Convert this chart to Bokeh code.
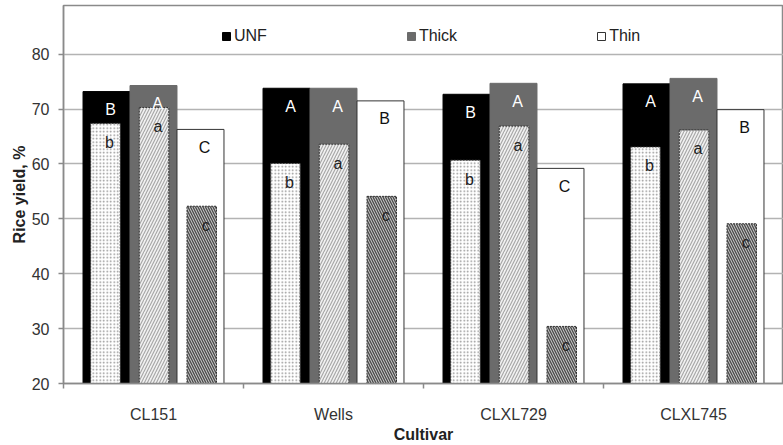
import numpy as np
from bokeh.plotting import figure
from bokeh.models import (ColumnDataSource, Range1d, FixedTicker, Legend, LegendItem)
from bokeh.core.properties import value
from bokeh.embed import file_html
from bokeh.resources import INLINE

# ---- data ----
cultivars = ["CL151", "Wells", "CLXL729", "CLXL745"]
series = ["UNF", "Thick", "Thin"]
total_unf = [73.2, 73.8, 72.7, 74.6]
total_thick = [74.3, 73.8, 74.7, 75.6]
total_thin = [66.3, 71.5, 59.2, 69.9]
head_unf = [67.4, 60.1, 60.7, 63.1]
head_thick = [70.3, 63.6, 66.9, 66.2]
head_thin = [52.3, 54.1, 30.4, 49.1]
let_total_unf = ["B", "A", "B", "A"]
let_total_thick = ["A", "A", "A", "A"]
let_total_thin = ["C", "B", "C", "B"]
let_head_unf = ["b", "b", "b", "b"]
let_head_thick = ["a", "a", "a", "a"]
let_head_thin = ["c", "c", "c", "c"]
y_ticks = [20, 30, 40, 50, 60, 70, 80]
x_title = "Cultivar"
y_title = "Rice yield, %"

FONT = "Liberation Sans"
centers = np.arange(len(cultivars)) + 0.5

p = figure(width=783, height=445, output_backend="svg", toolbar_location=None,
           x_range=Range1d(0, 4.0), y_range=Range1d(20, 88.88),
           min_border_left=63, min_border_right=0, min_border_top=5,
           min_border_bottom=60, background_fill_color="white",
           border_fill_color="white")
p.outline_line_color = "#8a8a8a"
p.outline_line_width = 1.5

# grid
p.xgrid.visible = False
p.ygrid.ticker = FixedTicker(ticks=y_ticks)
p.ygrid.grid_line_color = "#b3b3b3"
p.ygrid.grid_line_width = 1.5

# axes
p.yaxis.ticker = FixedTicker(ticks=y_ticks)
p.yaxis.axis_line_color = "#8a8a8a"
p.yaxis.axis_line_width = 1.5
p.yaxis.major_tick_line_color = "#8a8a8a"
p.yaxis.major_tick_line_width = 1.5
p.yaxis.major_tick_out = 5
p.yaxis.major_tick_in = 0
p.yaxis.minor_tick_line_color = None
p.yaxis.major_label_standoff = 9
p.yaxis.axis_label = y_title
p.yaxis.axis_label_standoff = 1

p.xaxis.ticker = FixedTicker(ticks=list(centers), minor_ticks=[0, 1, 2, 3])
p.xaxis.major_label_overrides = {float(c): n for c, n in zip(centers, cultivars)}
p.xaxis.axis_line_color = "#8a8a8a"
p.xaxis.axis_line_width = 1.5
p.xaxis.major_tick_out = 0
p.xaxis.major_tick_in = 0
p.xaxis.minor_tick_out = 5
p.xaxis.minor_tick_in = 0
p.xaxis.minor_tick_line_color = "#8a8a8a"
p.xaxis.minor_tick_line_width = 1.5
p.xaxis.major_label_standoff = 17
p.xaxis.axis_label = x_title
p.xaxis.axis_label_standoff = 0

for ax in (p.xaxis[0], p.yaxis[0]):
    ax.major_label_text_font = FONT
    ax.major_label_text_font_size = "16px"
    ax.major_label_text_color = "#333333"
    ax.axis_label_text_font = FONT
    ax.axis_label_text_font_size = "16px"
    ax.axis_label_text_font_style = "bold"
    ax.axis_label_text_color = "#222222"

W_OUT = 0.261
W_IN = 0.164
out_off = [-0.261, 0.0, 0.261]
in_off = [-0.267, 0.003, 0.268]

totals = [total_unf, total_thick, total_thin]
heads = [head_unf, head_thick, head_thin]
let_tot = [let_total_unf, let_total_thick, let_total_thin]
let_head = [let_head_unf, let_head_thick, let_head_thin]
out_fill = ["#000000", "#6b6b6b", "#ffffff"]
out_line = ["#000000", "#6b6b6b", "#333333"]
out_text = ["#ffffff", "#ffffff", "#111111"]
in_fill = ["#ffffff", "#f2f2f2", "#c8c8c8"]
in_hatch = [".", "/", "\\"]
in_hcol = ["#8f8f8f", "#a8a8a8", "#4a4a4a"]
in_hscale = [3.5, 6, 5]
in_hweight = [1, 1.2, 1.3]

renderers = []
for i in range(3):
    src = ColumnDataSource(dict(x=centers + out_off[i], top=totals[i], lab=let_tot[i]))
    r = p.vbar(x="x", top="top", bottom=20, width=W_OUT, source=src,
               fill_color=out_fill[i], line_color=out_line[i], line_width=1)
    renderers.append(r)
    src2 = ColumnDataSource(dict(x=centers + in_off[i], top=heads[i], lab=let_head[i]))
    p.vbar(x="x", top="top", bottom=20, width=W_IN, source=src2,
           fill_color=in_fill[i], hatch_pattern=in_hatch[i], hatch_color=in_hcol[i],
           hatch_scale=in_hscale[i], hatch_weight=in_hweight[i],
           line_color="#333333", line_width=1, line_dash="2 1")
    p.text(x="x", y="top", text="lab", source=src, x_offset=4, y_offset=18,
           text_align="center", text_baseline="middle",
           text_font=value(FONT), text_font_size="16px", text_color=out_text[i])
    p.text(x="x", y="top", text="lab", source=src2, x_offset=4, y_offset=19,
           text_align="center", text_baseline="middle",
           text_font=value(FONT), text_font_size="16px", text_color="#222222")

legend = Legend(items=[LegendItem(label=s, renderers=[r]) for s, r in zip(series, renderers)],
                orientation="horizontal", location=(158, 338), padding=0, margin=0,
                spacing=139, glyph_width=10, glyph_height=10, label_standoff=3,
                border_line_color=None, background_fill_alpha=0,
                label_text_font=FONT, label_text_font_size="16px",
                label_text_color="#222222")
p.add_layout(legend)

open("out.html", "w").write(file_html(p, INLINE))
